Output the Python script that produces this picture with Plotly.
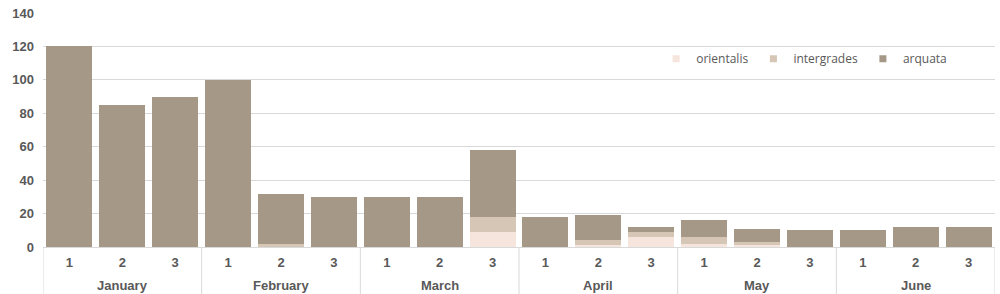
import plotly.graph_objects as go

months = ["January"] * 3 + ["February"] * 3 + ["March"] * 3 + ["April"] * 3 + ["May"] * 3 + ["June"] * 3
periods = ["1", "2", "3"] * 6

orientalis = [0, 0, 0, 0, 0, 0, 0, 0, 9, 0, 1, 6, 2, 1, 0, 0, 0, 0]
intergrades = [0, 0, 0, 0, 2, 0, 0, 0, 9, 0, 3, 3, 4, 2, 0, 0, 0, 0]
arquata = [120, 85, 90, 100, 30, 30, 30, 30, 40, 18, 15, 3, 10, 8, 10, 10, 12, 12]

series = [
    ("orientalis", orientalis, "#f6e5dd"),
    ("intergrades", intergrades, "#d6c6b6"),
    ("arquata", arquata, "#a69887"),
]

FONT = "Liberation Sans, Arial, sans-serif"
GRID = "#d9d9d9"
TXT = "#595959"

keys = [f"{m}|{p}" for m, p in zip(months, periods)]

fig = go.Figure()
for name, vals, color in series:
    fig.add_trace(go.Bar(x=keys, y=vals, name=name, showlegend=False,
                         marker=dict(color=color, line=dict(width=0))))
# legend entries with small square swatches
for name, vals, color in series:
    fig.add_trace(go.Scatter(x=[keys[0]], y=[None], name=name, mode="markers",
                             marker=dict(symbol="square", size=7, color=color),
                             hoverinfo="skip"))

# group labels and dividers derived from the month list
groups = []
for i, m in enumerate(months):
    if not groups or groups[-1][0] != m:
        groups.append([m, i, i])
    else:
        groups[-1][2] = i

label_y = -(285 - 247) / 234
div_y = -(294 - 247) / 234
for m, i0, i1 in groups:
    mid = keys[(i0 + i1) // 2]
    fig.add_annotation(x=mid, xref="x", y=label_y, yref="paper", text=m, showarrow=False,
                       yanchor="middle", font=dict(size=13, color=TXT, family=FONT, weight="bold"))
    fig.add_shape(type="line", xref="x", yref="paper", x0=keys[i0], x1=keys[i0],
                  x0shift=-0.5, x1shift=-0.5, y0=0, y1=div_y,
                  line=dict(color=GRID, width=1), layer="below")
fig.add_shape(type="line", xref="x", yref="paper", x0=keys[-1], x1=keys[-1],
              x0shift=0.5, x1shift=0.5, y0=0, y1=div_y,
              line=dict(color=GRID, width=1), layer="below")

fig.update_layout(
    barmode="stack",
    bargap=0.13,
    width=1000, height=294,
    margin=dict(l=43, r=5, t=13, b=47, autoexpand=False),
    paper_bgcolor="white", plot_bgcolor="white",
    font=dict(family=FONT, color=TXT),
    legend=dict(orientation="h", x=0.955, y=0.805, xanchor="right", yanchor="middle",
                traceorder="normal", font=dict(size=12, color=TXT, family="Open Sans, sans-serif"),
                itemwidth=30, bgcolor="rgba(0,0,0,0)"),
    showlegend=True,
)
fig.update_yaxes(range=[0, 140], dtick=20, showgrid=True, gridcolor=GRID, gridwidth=1,
                 zeroline=False, automargin=False,
                 tickfont=dict(size=13, color=TXT, family=FONT, weight="bold"),
                 ticklabelstandoff=8)
fig.update_xaxes(type="category", tickvals=keys, ticktext=periods, automargin=False,
                 range=[-0.5, len(keys) - 0.5],
                 showline=True, linecolor=GRID, linewidth=1, showgrid=False,
                 tickfont=dict(size=13, color=TXT, family=FONT, weight="bold"),
                 ticks="", ticklabelstandoff=3)

fig.write_html("out.html")
